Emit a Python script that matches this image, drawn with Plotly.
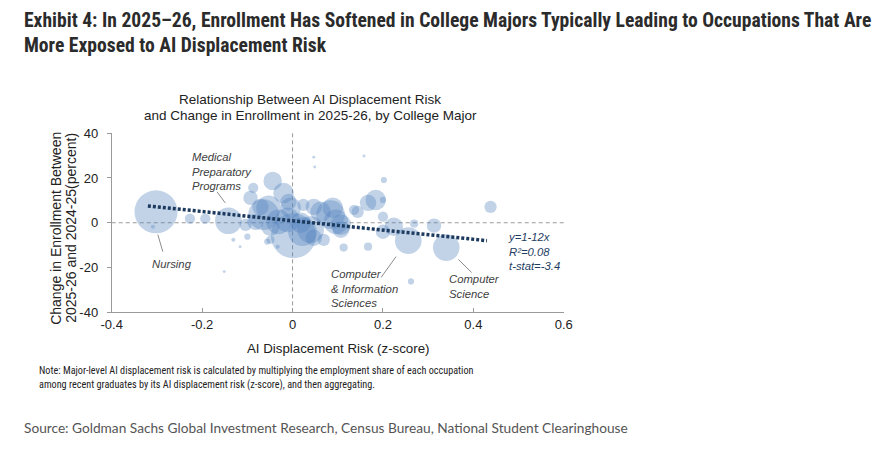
import numpy as np
import plotly.graph_objects as go

# bubble data: AI displacement risk (z-score), enrollment change (%), relative major size
risk = [-0.302, -0.227, -0.193, -0.142, -0.104, -0.100, -0.131, -0.116, -0.151, -0.087,
        -0.093, -0.044, -0.020, -0.064, 0.002, 0.040, 0.084, 0.107, -0.049, -0.004,
        0.024, 0.062, -0.011, 0.018, 0.047, -0.056, 0.113, 0.167, 0.144, 0.167,
        0.184, 0.200, 0.202, 0.158, 0.047, 0.049, 0.200, 0.200, 0.224, 0.256,
        0.269, 0.313, 0.340, 0.438, 0.262, -0.071, 0.069, 0.047, -0.049, -0.033,
        0.107, 0.136, -0.309, -0.053, -0.009, 0.089, 0.096, 0.022, -0.031, -0.082]
change = [4.9, 1.8, 1.8, 0.9, -0.9, -6.2, -7.6, -10.7, -21.8, 15.6,
          11.1, 18.7, 13.3, 3.6, -5.8, -3.1, 3.6, -0.9, -1.8, 6.7,
          8.0, 4.9, 1.3, 0.0, -6.7, -8.4, -11.1, -10.7, 4.9, 8.9,
          10.2, 10.2, 19.1, 29.8, 29.3, 24.9, 2.7, -4.0, -1.8, -8.0,
          -0.4, -1.3, -11.1, 7.1, -26.2, 7.1, -7.6, 7.1, -7.6, -10.7,
          -3.1, 5.8, -1.8, 6.7, 9.3, 6.7, 0.4, -4.0, 0.4, 0.4]
enroll = [441, 25, 25, 169, 36, 9, 4, 2, 2, 25,
          49, 81, 100, 225, 484, 169, 196, 100, 81, 100,
          36, 100, 144, 100, 64, 9, 16, 16, 36, 64,
          100, 9, 9, 2, 2, 2, 25, 49, 81, 169,
          16, 49, 169, 36, 9, 64, 36, 64, 16, 4,
          64, 25, 4, 144, 64, 100, 144, 196, 144, 64]

# fitted line end points as drawn in the chart
fit_x = [-0.32, 0.43]
fit_y = [7.5, -8.0]

x_ticks = [-0.4, -0.2, 0, 0.2, 0.4, 0.6]
x_labels = ["-0.4", "-0.2", "0", "0.2", "0.4", "0.6"]
y_ticks = [-40, -20, 0, 20, 40]
y_labels = ["-40", "-20", "0", "20", "40"]

W, H = 879, 454
FONT = "Liberation Sans"
COND = "Roboto Condensed, DejaVu Sans Condensed, Liberation Sans"

# the photographed page comes out slightly shrunk and inset, so target
# positions (measured on the reference) are mapped back to layout pixels
OX, SX = 11.5, 0.975
OY, SY = 4.5, 0.977


def lx(p):
    return (p - OX) / SX


def ly(p):
    return (p - OY) / SY


fig = go.Figure()

fig.add_trace(go.Scatter(
    x=risk, y=change, mode="markers",
    marker=dict(size=2.05 * np.sqrt(np.array(enroll)), sizemode="diameter",
                color="rgba(79,129,189,0.5)", line=dict(width=0)),
    hoverinfo="x+y"))

fig.add_trace(go.Scatter(
    x=fit_x, y=fit_y, mode="lines",
    line=dict(color="#1c3a5e", width=3.5, dash="3px,2px")))

# zero reference lines
fig.add_hline(y=0, line=dict(color="#9a9a9a", width=1, dash="4px,3px"), layer="below")
fig.add_vline(x=0, line=dict(color="#9a9a9a", width=1, dash="4px,3px"), layer="below")

# leader lines for labels
leaders = [((-0.298, -5.3), (-0.287, -12.9)),
           ((-0.167, 13.8), (-0.149, 8.9)),
           ((0.196, -24.4), (0.229, -15.1)),
           ((0.367, -16.4), (0.396, -22.2))]
for (x0, y0), (x1, y1) in leaders:
    fig.add_shape(type="line", x0=x0, y0=y0, x1=x1, y1=y1,
                  line=dict(color="#8c8c8c", width=1))

lab_font = dict(family=FONT, size=11.3, color="#404040")
labels = [("<i>Nursing</i>", -0.316, -15.0),
          ("<i>Medical<br>Preparatory<br>Programs</i>", -0.227, 33.0),
          ("<i>Computer<br>& Information<br>Sciences</i>", 0.08, -19.5),
          ("<i>Computer<br>Science</i>", 0.342, -21.5)]
for txt, x, y in labels:
    fig.add_annotation(x=x, y=y, text=txt, showarrow=False, xanchor="left",
                       yanchor="top", align="left", font=lab_font)

fig.add_annotation(x=0.473, y=-3.0, text="<i>y=1-12x<br>R²=0.08<br>t-stat=-3.4</i>",
                   showarrow=False, xanchor="left", yanchor="top", align="left",
                   font=dict(family=FONT, size=11.3, color="#1f3d63"))


def note(text, x, y, size, color, family=FONT, xanchor="left", bold=False, angle=0):
    if bold:
        text = "<b>" + text + "</b>"
    fig.add_annotation(xref="paper", yref="paper", x=lx(x) / W, y=1 - ly(y) / H,
                       text=text, showarrow=False, xanchor=xanchor, yanchor="middle",
                       textangle=angle,
                       font=dict(family=family, size=size, color=color))


note("Exhibit 4: In 2025–26, Enrollment Has Softened in College Majors Typically Leading to Occupations That Are",
     22, 18, 19.6, "#2b2b2b", family=COND, bold=True)
note("More Exposed to AI Displacement Risk", 22, 43, 19.6, "#2b2b2b", family=COND, bold=True)
note("Relationship Between AI Displacement Risk", 310, 98, 13.5, "#222", xanchor="center")
note("and Change in Enrollment in 2025-26, by College Major", 310, 114, 13.5, "#222",
     xanchor="center")
note("Change in Enrollment Between", 57, 228, 14, "#222", xanchor="center", angle=-90)
note("2025-26 and 2024-25(percent)", 72, 228, 14, "#222", xanchor="center", angle=-90)
note("AI Displacement Risk (z-score)", 338, 350, 13.3, "#222", xanchor="center")
note("Note: Major-level AI displacement risk is calculated by multiplying the employment share of each occupation",
     37, 372, 10.2, "#222", family=COND)
note("among recent graduates by its AI displacement risk (z-score), and then aggregating.",
     37, 386, 10.2, "#222", family=COND)
note("Source: Goldman Sachs Global Investment Research, Census Bureau, National Student Clearinghouse",
     22, 429, 13.7, "#555", family="Lato")

fig.update_layout(
    width=W, height=H, autosize=False,
    margin=dict(l=0, r=0, t=0, b=0),
    paper_bgcolor="white", plot_bgcolor="white",
    showlegend=False,
    font=dict(family=FONT, size=13, color="#222"),
    xaxis=dict(domain=[lx(112) / W, lx(563) / W], range=[-0.4, 0.6],
               tickvals=x_ticks, ticktext=x_labels, showgrid=False, zeroline=False,
               showline=True, linecolor="#9a9a9a", linewidth=1,
               ticks="inside", ticklen=4, tickcolor="#9a9a9a"),
    yaxis=dict(domain=[1 - ly(313) / H, 1 - ly(132) / H], range=[-40, 40],
               tickvals=y_ticks, ticktext=y_labels, showgrid=False, zeroline=False,
               showline=True, linecolor="#9a9a9a", linewidth=1,
               ticks="outside", ticklen=4, tickcolor="#9a9a9a",
               ticklabelstandoff=6),
)

fig.write_html("out.html", config={"displayModeBar": False},
               post_script="document.body.style.margin='0';")
